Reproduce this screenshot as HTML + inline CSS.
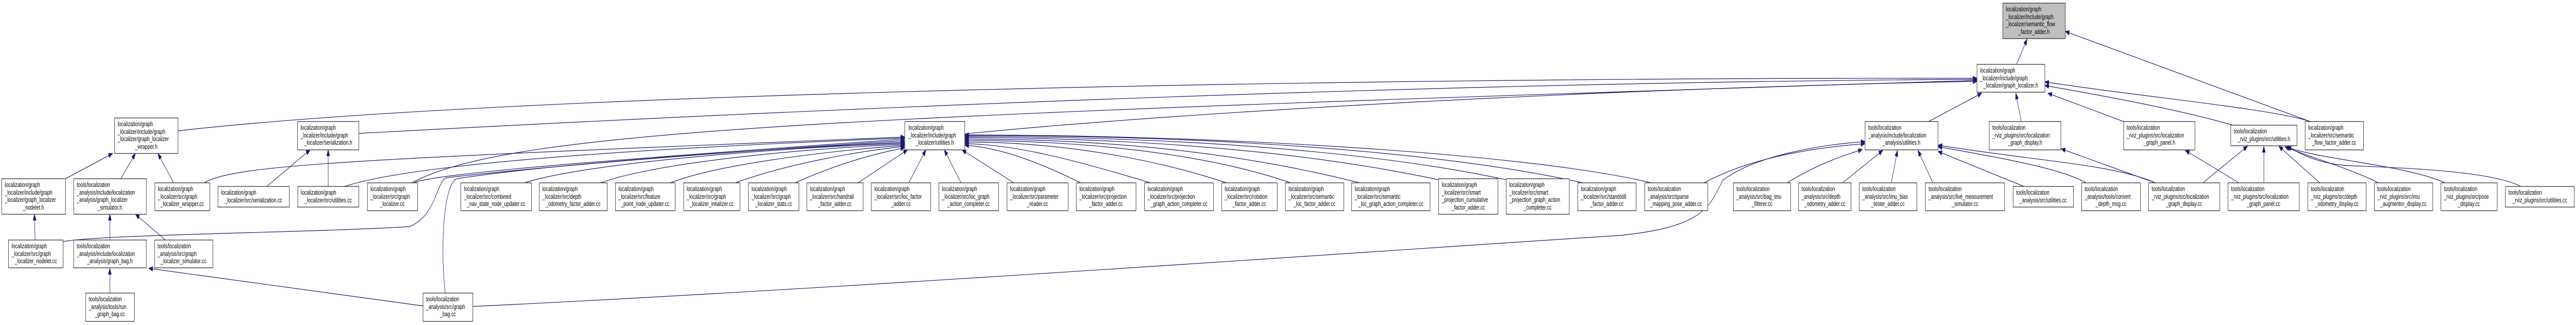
<!DOCTYPE html>
<html><head><meta charset="utf-8"><style>
html,body{margin:0;padding:0;background:#fff;overflow:hidden;width:100%;height:100%;}
svg{display:block;position:absolute;left:0;top:0;width:100vw;height:100vh;}
text{font-family:"Liberation Sans",sans-serif;font-size:13.3px;fill:#000;}
.b{fill:#fff;stroke:#333;stroke-width:1.3;}
.e{fill:none;stroke:#191970;stroke-width:1.2;marker-end:url(#ah);}
</style></head><body>
<svg viewBox="0 0 7551 631" preserveAspectRatio="none" xmlns="http://www.w3.org/2000/svg">
<defs><marker id="ah" markerUnits="userSpaceOnUse" markerWidth="13" markerHeight="10" refX="12" refY="4.5" orient="auto"><path d="M0,0 L12,4.5 L0,9 z" fill="#191970" stroke="#191970"/></marker></defs>

<!-- edges -->
<path class="e" d="M5911,125 L5942,76"/>
<path class="e" d="M6772,236 L6054,61"/>
<path class="e" d="M6772,236 C6650,210 6300,190 5994,159"/>
<path class="e" d="M6545,243 C6400,215 6200,190 5994,166"/>
<path class="e" d="M6225,236 L6003,181"/>
<path class="e" d="M5925,236 L5909,181"/>
<path class="e" d="M5653,236 L5809,181"/>
<path class="e" d="M522,254 C1500,180 4000,150 5795,152"/>
<path class="e" d="M1052,259 C2000,225 4000,160 5795,154"/>
<path class="e" d="M1207,355 C1500,250 2500,225 5795,156"/>
<path class="e" d="M2828,260 C3500,215 4800,170 5795,158"/>

<path class="e" d="M600,354 C700,320 1000,310 2652,266"/>
<path class="e" d="M1010,362 C1200,320 1800,290 2652,268"/>
<path class="e" d="M1215,354 C1300,335 1800,310 2652,270"/>
<path class="e" d="M185,469 C300,455 900,452 1200,440 C1280,420 1280,348 1310,345 C1500,330 2000,300 2652,273"/>
<path class="e" d="M1305,569 C1290,480 1300,360 1338,347 C1600,320 2200,290 2652,276"/>
<path class="e" d="M1537,355 C1700,320 2200,290 2652,278"/>
<path class="e" d="M1761,355 C1900,320 2300,290 2652,280"/>
<path class="e" d="M1965,355 C2100,320 2400,295 2652,282"/>
<path class="e" d="M2155,355 C2300,320 2500,295 2652,284"/>
<path class="e" d="M2330,355 C2450,320 2550,300 2652,287"/>
<path class="e" d="M2515,355 L2660,291"/>
<path class="e" d="M2664,355 L2714,291"/>
<path class="e" d="M2817,355 L2768,291"/>
<path class="e" d="M2972,355 L2820,291"/>
<path class="e" d="M3168,355 C3000,300 2900,285 2828,282"/>
<path class="e" d="M3372,355 C3100,300 2950,280 2828,279"/>
<path class="e" d="M3595,355 C3300,290 3000,275 2828,276"/>
<path class="e" d="M3783,355 C3500,290 3100,272 2828,273"/>
<path class="e" d="M3985,355 C3600,290 3200,270 2828,270"/>
<path class="e" d="M4217,349 C3800,290 3300,268 2828,267"/>
<path class="e" d="M4415,349 C4000,290 3400,265 2828,265"/>
<path class="e" d="M4640,355 C4200,290 3500,263 2828,263"/>
<path class="e" d="M4840,355 C4500,300 3600,262 2828,262"/>

<path class="e" d="M4995,355 C5150,300 5350,285 5467,279"/>
<path class="e" d="M1386,595 C2500,560 4200,480 4750,457 C5000,440 5010,400 5050,350 C5150,300 5350,280 5467,275"/>
<path class="e" d="M5238,355 C5350,310 5420,300 5459,290"/>
<path class="e" d="M5401,355 L5519,292"/>
<path class="e" d="M5544,355 L5562,292"/>
<path class="e" d="M5666,355 L5622,292"/>
<path class="e" d="M5933,362 L5681,294"/>
<path class="e" d="M6115,355 C6050,330 5900,310 5681,285"/>
<path class="e" d="M6318,355 C6200,320 6000,315 5681,282"/>

<path class="e" d="M6318,355 L6042,289"/>
<path class="e" d="M6563,355 L6406,292"/>
<path class="e" d="M6457,355 L6588,284"/>
<path class="e" d="M6636,355 L6636,284"/>
<path class="e" d="M6800,355 L6680,284"/>
<path class="e" d="M6972,355 C6900,330 6750,300 6698,285"/>
<path class="e" d="M7167,355 C7050,320 6800,310 6701,285"/>
<path class="e" d="M7389,362 C7300,330 7000,325 6900,322 C6800,320 6750,300 6704,285"/>

<path class="e" d="M782,362 L909,291"/>
<path class="e" d="M962,362 L962,291"/>
<path class="e" d="M192,347 L330,298"/>
<path class="e" d="M354,347 L397,298"/>
<path class="e" d="M509,355 L463,298"/>
<path class="e" d="M103,466 L101,416"/>
<path class="e" d="M322,466 L322,416"/>
<path class="e" d="M485,466 L397,416"/>
<path class="e" d="M322,569 L322,521"/>
<path class="e" d="M1240,594 L436,521"/>

<!-- nodes -->
<rect x="5871" y="6" width="183" height="69" style="fill:#bfbfbf;stroke:#333;stroke-width:1.3"/>
<text x="5880" y="22">localization/graph</text><text x="5880" y="37">_localizer/include/graph</text><text x="5880" y="51">_localizer/semantic_flow</text><text x="5962" y="66" text-anchor="middle">_factor_adder.h</text>

<rect class="b" x="5795" y="125" width="199" height="54"/>
<text x="5804" y="141">localization/graph</text><text x="5804" y="156">_localizer/include/graph</text><text x="5894" y="170" text-anchor="middle">_localizer/graph_localizer.h</text>

<rect class="b" x="336" y="229" width="186" height="69"/>
<text x="345" y="245">localization/graph</text><text x="345" y="260">_localizer/include/graph</text><text x="345" y="274">_localizer/graph_localizer</text><text x="429" y="289" text-anchor="middle">_wrapper.h</text>

<rect class="b" x="872" y="236" width="180" height="55"/>
<text x="881" y="252">localization/graph</text><text x="881" y="267">_localizer/include/graph</text><text x="962" y="281" text-anchor="middle">_localizer/serialization.h</text>

<rect class="b" x="2652" y="236" width="176" height="55"/>
<text x="2663" y="252">localization/graph</text><text x="2663" y="267">_localizer/include/graph</text><text x="2740" y="281" text-anchor="middle">_localizer/utilities.h</text>

<rect class="b" x="5467" y="236" width="214" height="55"/>
<text x="5476" y="252">tools/localization</text><text x="5476" y="267">_analysis/include/localization</text><text x="5574" y="281" text-anchor="middle">_analysis/utilities.h</text>

<rect class="b" x="5831" y="236" width="210" height="55"/>
<text x="5840" y="252">tools/localization</text><text x="5840" y="267">_rviz_plugins/src/localization</text><text x="5936" y="281" text-anchor="middle">_graph_display.h</text>

<rect class="b" x="6225" y="236" width="209" height="55"/>
<text x="6234" y="252">tools/localization</text><text x="6234" y="267">_rviz_plugins/src/localization</text><text x="6330" y="281" text-anchor="middle">_graph_panel.h</text>

<rect class="b" x="6539" y="243" width="194" height="40"/>
<text x="6548" y="259">tools/localization</text><text x="6636" y="274" text-anchor="middle">_rviz_plugins/src/utilities.h</text>

<rect class="b" x="6757" y="236" width="171" height="55"/>
<text x="6766" y="252">localization/graph</text><text x="6766" y="267">_localizer/src/semantic</text><text x="6842" y="281" text-anchor="middle">_flow_factor_adder.cc</text>

<rect class="b" x="5" y="347" width="187" height="69"/>
<text x="14" y="363">localization/graph</text><text x="14" y="378">_localizer/include/graph</text><text x="14" y="392">_localizer/graph_localizer</text><text x="98" y="407" text-anchor="middle">_nodelet.h</text>

<rect class="b" x="216" y="347" width="213" height="69"/>
<text x="225" y="363">tools/localization</text><text x="225" y="378">_analysis/include/localization</text><text x="225" y="392">_analysis/graph_localizer</text><text x="322" y="407" text-anchor="middle">_simulator.h</text>

<rect class="b" x="454" y="355" width="161" height="54"/>
<text x="463" y="371">localization/graph</text><text x="463" y="386">_localizer/src/graph</text><text x="534" y="400" text-anchor="middle">_localizer_wrapper.cc</text>

<rect class="b" x="639" y="362" width="209" height="40"/>
<text x="648" y="378">localization/graph</text><text x="743" y="393" text-anchor="middle">_localizer/src/serialization.cc</text>

<rect class="b" x="873" y="362" width="179" height="40"/>
<text x="882" y="378">localization/graph</text><text x="962" y="393" text-anchor="middle">_localizer/src/utilities.cc</text>

<rect class="b" x="1077" y="355" width="147" height="54"/>
<text x="1086" y="371">localization/graph</text><text x="1086" y="386">_localizer/src/graph</text><text x="1150" y="400" text-anchor="middle">_localizer.cc</text>

<rect class="b" x="1351" y="355" width="207" height="54"/>
<text x="1360" y="371">localization/graph</text><text x="1360" y="386">_localizer/src/combined</text><text x="1454" y="400" text-anchor="middle">_nav_state_node_updater.cc</text>

<rect class="b" x="1581" y="355" width="199" height="54"/>
<text x="1590" y="371">localization/graph</text><text x="1590" y="386">_localizer/src/depth</text><text x="1680" y="400" text-anchor="middle">_odometry_factor_adder.cc</text>

<rect class="b" x="1804" y="355" width="175" height="54"/>
<text x="1813" y="371">localization/graph</text><text x="1813" y="386">_localizer/src/feature</text><text x="1891" y="400" text-anchor="middle">_point_node_updater.cc</text>

<rect class="b" x="2004" y="355" width="165" height="54"/>
<text x="2013" y="371">localization/graph</text><text x="2013" y="386">_localizer/src/graph</text><text x="2086" y="400" text-anchor="middle">_localizer_intializer.cc</text>

<rect class="b" x="2194" y="355" width="148" height="54"/>
<text x="2203" y="371">localization/graph</text><text x="2203" y="386">_localizer/src/graph</text><text x="2268" y="400" text-anchor="middle">_localizer_stats.cc</text>

<rect class="b" x="2365" y="355" width="165" height="54"/>
<text x="2374" y="371">localization/graph</text><text x="2374" y="386">_localizer/src/handrail</text><text x="2447" y="400" text-anchor="middle">_factor_adder.cc</text>

<rect class="b" x="2554" y="355" width="174" height="54"/>
<text x="2563" y="371">localization/graph</text><text x="2563" y="386">_localizer/src/loc_factor</text><text x="2641" y="400" text-anchor="middle">_adder.cc</text>

<rect class="b" x="2752" y="355" width="175" height="54"/>
<text x="2761" y="371">localization/graph</text><text x="2761" y="386">_localizer/src/loc_graph</text><text x="2839" y="400" text-anchor="middle">_action_completer.cc</text>

<rect class="b" x="2952" y="355" width="179" height="54"/>
<text x="2961" y="371">localization/graph</text><text x="2961" y="386">_localizer/src/parameter</text><text x="3041" y="400" text-anchor="middle">_reader.cc</text>

<rect class="b" x="3155" y="355" width="175" height="54"/>
<text x="3164" y="371">localization/graph</text><text x="3164" y="386">_localizer/src/projection</text><text x="3242" y="400" text-anchor="middle">_factor_adder.cc</text>

<rect class="b" x="3355" y="355" width="202" height="54"/>
<text x="3364" y="371">localization/graph</text><text x="3364" y="386">_localizer/src/projection</text><text x="3456" y="400" text-anchor="middle">_graph_action_completer.cc</text>

<rect class="b" x="3581" y="355" width="163" height="54"/>
<text x="3590" y="371">localization/graph</text><text x="3590" y="386">_localizer/src/rotation</text><text x="3662" y="400" text-anchor="middle">_factor_adder.cc</text>

<rect class="b" x="3768" y="355" width="171" height="54"/>
<text x="3777" y="371">localization/graph</text><text x="3777" y="386">_localizer/src/semantic</text><text x="3853" y="400" text-anchor="middle">_loc_factor_adder.cc</text>

<rect class="b" x="3962" y="355" width="230" height="54"/>
<text x="3971" y="371">localization/graph</text><text x="3971" y="386">_localizer/src/semantic</text><text x="4077" y="400" text-anchor="middle">_loc_graph_action_completer.cc</text>

<rect class="b" x="4217" y="347" width="174" height="69"/>
<text x="4226" y="363">localization/graph</text><text x="4226" y="378">_localizer/src/smart</text><text x="4226" y="392">_projection_cumulative</text><text x="4304" y="407" text-anchor="middle">_factor_adder.cc</text>

<rect class="b" x="4415" y="347" width="185" height="69"/>
<text x="4424" y="363">localization/graph</text><text x="4424" y="378">_localizer/src/smart</text><text x="4424" y="392">_projection_graph_action</text><text x="4507" y="407" text-anchor="middle">_completer.cc</text>

<rect class="b" x="4625" y="355" width="171" height="54"/>
<text x="4634" y="371">localization/graph</text><text x="4634" y="386">_localizer/src/standstill</text><text x="4710" y="400" text-anchor="middle">_factor_adder.cc</text>

<rect class="b" x="4821" y="355" width="185" height="54"/>
<text x="4830" y="371">tools/localization</text><text x="4830" y="386">_analysis/src/sparse</text><text x="4913" y="400" text-anchor="middle">_mapping_pose_adder.cc</text>

<rect class="b" x="5081" y="355" width="168" height="54"/>
<text x="5090" y="371">tools/localization</text><text x="5090" y="386">_analysis/src/bag_imu</text><text x="5165" y="400" text-anchor="middle">_filterer.cc</text>

<rect class="b" x="5272" y="355" width="154" height="54"/>
<text x="5281" y="371">tools/localization</text><text x="5281" y="386">_analysis/src/depth</text><text x="5349" y="400" text-anchor="middle">_odometry_adder.cc</text>

<rect class="b" x="5450" y="355" width="169" height="54"/>
<text x="5459" y="371">tools/localization</text><text x="5459" y="386">_analysis/src/imu_bias</text><text x="5534" y="400" text-anchor="middle">_tester_adder.cc</text>

<rect class="b" x="5644" y="355" width="232" height="54"/>
<text x="5653" y="371">tools/localization</text><text x="5653" y="386">_analysis/src/live_measurement</text><text x="5760" y="400" text-anchor="middle">_simulator.cc</text>

<rect class="b" x="5901" y="362" width="177" height="40"/>
<text x="5910" y="378">tools/localization</text><text x="5989" y="393" text-anchor="middle">_analysis/src/utilities.cc</text>

<rect class="b" x="6102" y="355" width="172" height="54"/>
<text x="6111" y="371">tools/localization</text><text x="6111" y="386">_analysis/tools/convert</text><text x="6188" y="400" text-anchor="middle">_depth_msg.cc</text>

<rect class="b" x="6298" y="355" width="209" height="54"/>
<text x="6307" y="371">tools/localization</text><text x="6307" y="386">_rviz_plugins/src/localization</text><text x="6402" y="400" text-anchor="middle">_graph_display.cc</text>

<rect class="b" x="6531" y="355" width="209" height="54"/>
<text x="6540" y="371">tools/localization</text><text x="6540" y="386">_rviz_plugins/src/localization</text><text x="6635" y="400" text-anchor="middle">_graph_panel.cc</text>

<rect class="b" x="6765" y="355" width="171" height="54"/>
<text x="6774" y="371">tools/localization</text><text x="6774" y="386">_rviz_plugins/src/depth</text><text x="6850" y="400" text-anchor="middle">_odometry_display.cc</text>

<rect class="b" x="6960" y="355" width="171" height="54"/>
<text x="6969" y="371">tools/localization</text><text x="6969" y="386">_rviz_plugins/src/imu</text><text x="7045" y="400" text-anchor="middle">_augmentor_display.cc</text>

<rect class="b" x="7155" y="355" width="165" height="54"/>
<text x="7164" y="371">tools/localization</text><text x="7164" y="386">_rviz_plugins/src/pose</text><text x="7237" y="400" text-anchor="middle">_display.cc</text>

<rect class="b" x="7344" y="362" width="202" height="40"/>
<text x="7353" y="378">tools/localization</text><text x="7445" y="393" text-anchor="middle">_rviz_plugins/src/utilities.cc</text>

<rect class="b" x="25" y="466" width="160" height="54"/>
<text x="34" y="482">localization/graph</text><text x="34" y="497">_localizer/src/graph</text><text x="105" y="511" text-anchor="middle">_localizer_nodelet.cc</text>

<rect class="b" x="216" y="466" width="213" height="54"/>
<text x="225" y="482">tools/localization</text><text x="225" y="497">_analysis/include/localization</text><text x="322" y="511" text-anchor="middle">_analysis/graph_bag.h</text>

<rect class="b" x="453" y="466" width="171" height="54"/>
<text x="462" y="482">tools/localization</text><text x="462" y="497">_analysis/src/graph</text><text x="538" y="511" text-anchor="middle">_localizer_simulator.cc</text>

<rect class="b" x="251" y="569" width="143" height="55"/>
<text x="260" y="585">tools/localization</text><text x="260" y="600">_analysis/tools/run</text><text x="322" y="614" text-anchor="middle">_graph_bag.cc</text>

<rect class="b" x="1240" y="569" width="146" height="55"/>
<text x="1249" y="585">tools/localization</text><text x="1249" y="600">_analysis/src/graph</text><text x="1313" y="614" text-anchor="middle">_bag.cc</text>
</svg>
</body></html>
